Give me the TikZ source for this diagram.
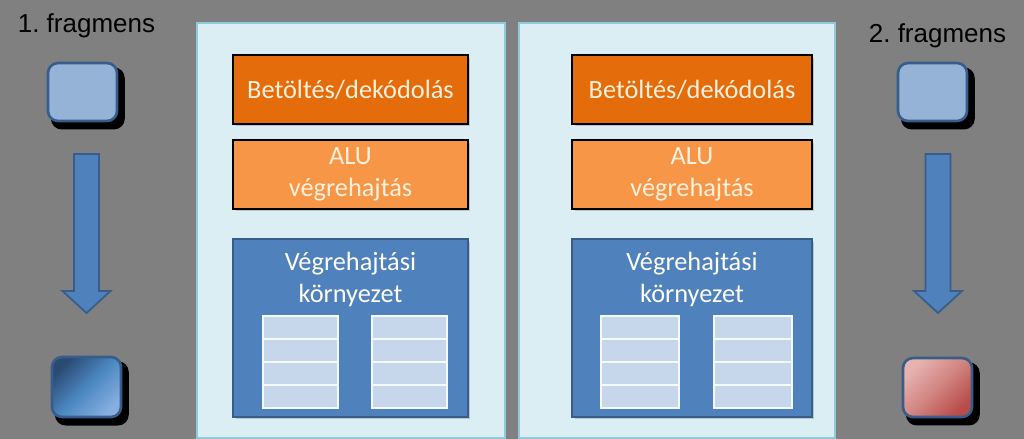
\documentclass[tikz,border=0pt]{standalone}
\usepackage{fontspec}
\setmainfont{Carlito}
\newfontfamily\arialfont{Liberation Sans}
\usetikzlibrary{calc, positioning, shadows}
\definecolor{bggray}{HTML}{808080}
\definecolor{panelfill}{HTML}{DAEEF3}
\definecolor{panelline}{HTML}{8FCADA}
\definecolor{loadorange}{HTML}{E46C0A}
\definecolor{aluorange}{HTML}{F79646}
\definecolor{envblue}{HTML}{4F81BD}
\definecolor{envline}{HTML}{385D8A}
\definecolor{tabfill}{HTML}{C6D6EB}
\definecolor{fragfill}{HTML}{95B3D7}
\definecolor{txtcream}{HTML}{FFF1DE}
\definecolor{redlight}{HTML}{E6B3B1}
\definecolor{reddark}{HTML}{B84C48}
\definecolor{bluedark}{HTML}{2A4A73}
\definecolor{bluelight}{HTML}{86AEE0}
\frenchspacing

\begin{document}
\begin{tikzpicture}[x=0.02cm, y=-0.02cm,
  panel/.style={draw=panelline, line width=1.2pt, fill=panelfill, minimum height=8.3cm, inner sep=0pt},
  unitbox/.style={draw=black, line width=1.4pt, minimum height=1.38cm, text=txtcream, align=center,
    font=\fontsize{15}{18}\selectfont, drop shadow={shadow xshift=0.05cm, shadow yshift=-0.05cm, opacity=0.35}},
  envbox/.style={draw=envline, line width=0.9pt, fill=envblue, minimum height=3.56cm, inner sep=0pt,
    drop shadow={shadow xshift=0.05cm, shadow yshift=-0.05cm, opacity=0.35}},
  envtext/.style={text=white!95!yellow, align=center, font=\fontsize{15}{18.2}\selectfont},
  tabrow/.style={draw=white!85!tabfill, line width=0.9pt, fill=tabfill, minimum height=0.46cm, inner sep=0pt},
  fragbox/.style={draw=envline, line width=1.5pt, rounded corners=0.2cm, minimum width=1.38cm, minimum height=1.16cm,
    drop shadow={shadow xshift=0.1cm, shadow yshift=-0.12cm, shadow scale=1.07, fill=black, opacity=1}},
  fraglabel/.style={font=\arialfont\fontsize{14.8}{17}\selectfont, anchor=base},
  blockarrow/.style={draw=envline, line width=1pt, fill=envblue}]
  % background
  \fill[bggray] (0,0) rectangle (1024,439);
  \useasboundingbox (0,0) rectangle (1024,439);
  % the two processing units
  \node[panel, minimum width=6.16cm] (pan1) at (351,230.5) {};
  \node[panel, minimum width=6.32cm] (pan2) at (677,230.5) {};
  \node[unitbox, fill=loadorange, minimum width=4.7cm] (load1) at (350.5,89.5) {Betöltés/dekódolás};
  \node[unitbox, fill=aluorange, minimum width=4.7cm] (alu1) at (350.5,174.5) {ALU\\végrehajtás};
  \node[envbox, minimum width=4.7cm] (env1) at (350.5,328) {};
  \node[envtext] (envt1) at (350.5,279) {Végrehajtási\\környezet};
  \node[unitbox, fill=loadorange, minimum width=4.8cm] (load2) at (692,89.5) {Betöltés/dekódolás};
  \node[unitbox, fill=aluorange, minimum width=4.8cm] (alu2) at (692,174.5) {ALU\\végrehajtás};
  \node[envbox, minimum width=4.8cm] (env2) at (692,328) {};
  \node[envtext] (envt2) at (692,279) {Végrehajtási\\környezet};
  % register tables
  \foreach \tx/\tw/\nm in {300.5/1.5/a, 409.5/1.5/b, 640/1.56/c, 753/1.56/d}
    \foreach \r in {1,...,4}
      \node[tabrow, minimum width=\tw cm] (tab\nm\r) at (\tx,{316+23*(\r-0.5)}) {};
  % fragments
  \node[fraglabel] (lab1) at (86.5,33) {1. fragmens};
  \node[fraglabel] (lab2) at (937.5,43) {2. fragmens};
  \node[fragbox, fill=fragfill] (fin1) at (82.5,92) {};
  \node[fragbox, fill=fragfill] (fin2) at (932.5,92) {};
  \node[fragbox, top color=bluedark, bottom color=bluelight, middle color=envblue!95!cyan, shading angle=45,
    minimum height=1.2cm] (fout1) at (86.5,387) {};
  \node[fragbox, top color=redlight, bottom color=reddark, middle color=redlight!55!reddark, shading angle=45,
    minimum height=1.18cm] (fout2) at (937.5,387.5) {};
  % block arrows between fragments
  \foreach \n/\ax in {1/86.5, 2/938} {
    \coordinate (arr\n top) at (\ax,154);
    \coordinate (arr\n tip) at (\ax,313);
    \draw[blockarrow] ($(arr\n top)+(-12.5,0)$) -- ($(arr\n top)+(12.5,0)$) -- ($(arr\n tip)+(12.5,-22)$)
      -- ($(arr\n tip)+(24,-22)$) -- (arr\n tip) -- ($(arr\n tip)+(-24,-22)$) -- ($(arr\n tip)+(-12.5,-22)$) -- cycle;
  }
\end{tikzpicture}
\end{document}
